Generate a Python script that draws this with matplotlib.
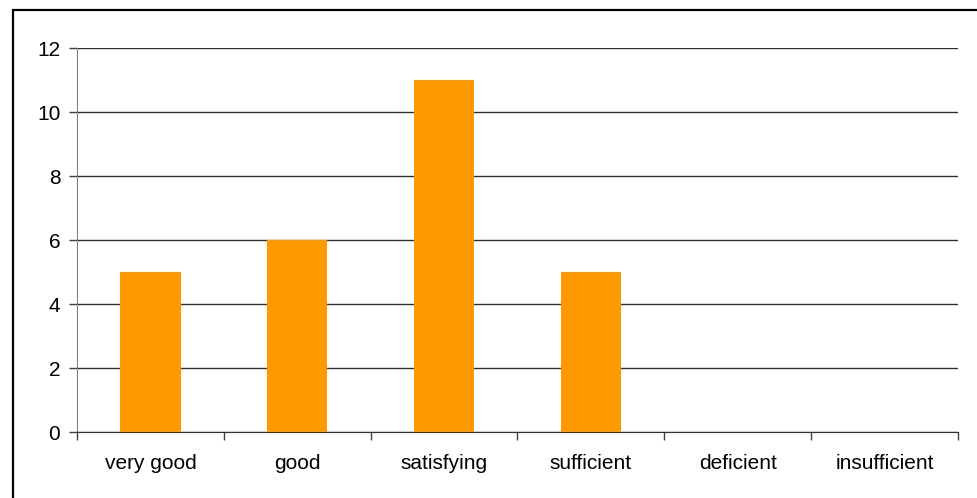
import numpy as np
import matplotlib.pyplot as plt
from matplotlib.patches import Rectangle

categories = ['very good', 'good', 'satisfying', 'sufficient', 'deficient', 'insufficient']
counts = [5, 6, 11, 5, 0, 0]
y_ticks = [0, 2, 4, 6, 8, 10, 12]

plt.rcParams['font.family'] = ['Liberation Sans', 'DejaVu Sans']

fig = plt.figure(figsize=(9.77, 4.98), dpi=100)
ax = fig.add_axes([77 / 977, 1 - 432 / 498, 881 / 977, 384 / 498])

x = np.arange(len(categories))
ax.bar(x, counts, width=0.41, color='#FF9900', zorder=3)

ax.set_xlim(-0.5, len(categories) - 0.5)
ax.set_ylim(0, 12)
ax.set_yticks(y_ticks)
ax.yaxis.grid(True, color='#303030', linewidth=1, zorder=0)

# category labels in the middle, tick marks on the boundaries
ax.set_xticks(x)
ax.set_xticklabels(categories, fontsize=15)
ax.set_xticks(np.arange(len(categories) + 1) - 0.5, minor=True)
ax.tick_params(axis='x', which='major', length=0, pad=16)
ax.tick_params(axis='x', which='minor', length=6, color='#404040', width=1)
ax.tick_params(axis='y', labelsize=15, length=6, color='#404040', width=1, pad=6)

for side in ['top', 'right']:
    ax.spines[side].set_visible(False)
ax.spines['left'].set_color('#808080')
ax.spines['bottom'].set_color('#303030')

# frame around the chart area
fig.patches.append(Rectangle((13 / 977, -0.1), 1.2, 1.1 - 10 / 498, transform=fig.transFigure,
                             fill=False, edgecolor='black', linewidth=1.6))

fig.savefig('out.png', dpi=100)
